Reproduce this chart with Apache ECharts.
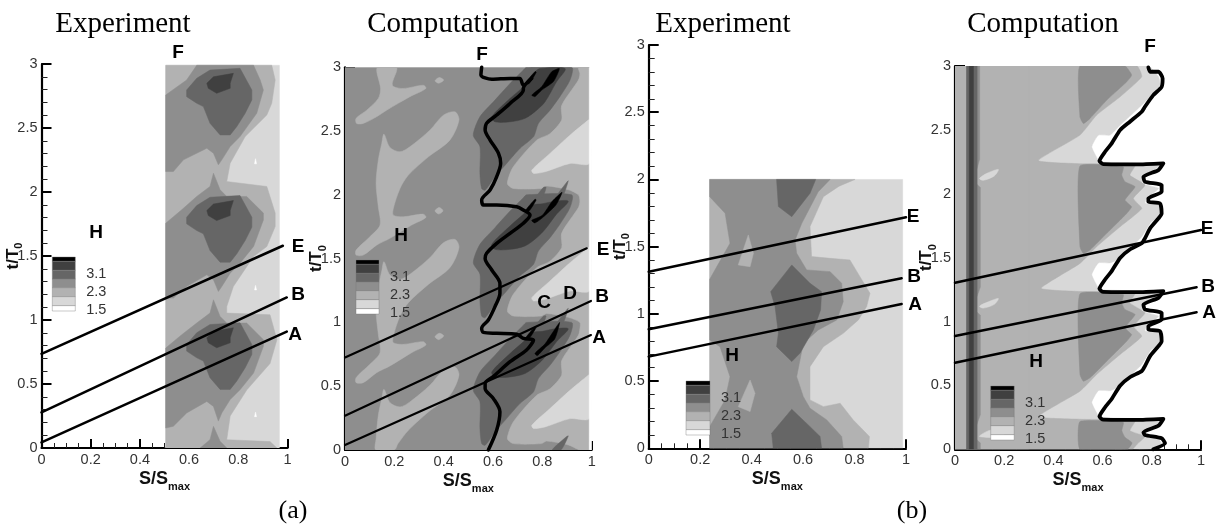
<!DOCTYPE html>
<html><head><meta charset="utf-8">
<style>html,body{margin:0;padding:0;background:#fff}#c{width:1219px;height:529px;filter:blur(.45px)}</style>
<script src="https://cdn.jsdelivr.net/npm/echarts@6/dist/echarts.min.js"></script>
</head><body><div id="c"></div>
<script>
// contour levels, lightest to darkest
const L1='#d8d8d8',L2='#b2b2b2',L3='#8e8e8e',L4='#666666',L5='#404040',L6='#000000';
const legendColors=[L6,L5,L4,L3,L2,L1,'#ffffff'];
const legendRows=[13,27,26,26,27,27,16];
const legendLabels=['3.1','2.3','1.5'];
const xTicks=[0,0.2,0.4,0.6,0.8,1];
const yTicks=[0,0.5,1,1.5,2,2.5,3];

// ---------- panel 1: Experiment (a)
const a1=[[[.505,2.99],[.967,2.99],[.967,0],[.505,0]]];
const a2=[[[.505,2.99],[.936,2.99],[.95,2.875],[.936,2.693],[.916,2.602],[.828,2.433],[.767,2.225],[.753,2.082],[.916,2.043],[.95,1.835],[.95,1.73],[.916,1.574],[.862,1.496],[.78,1.262],[.753,1.106],[.753,1.054],[.929,1.041],[.957,.846],[.929,.66],[.835,.455],[.767,.25],[.753,.065],[.929,.05],[.957,0],[.505,0]]];
const a3=[
[[.505,2.758],[.59,2.875],[.631,2.99],[.862,2.99],[.889,2.875],[.902,2.797],[.875,2.615],[.807,2.433],[.767,2.355],[.733,2.251],[.719,2.212],[.699,2.303],[.672,2.342],[.577,2.251],[.536,2.16],[.505,2.16]],
[[.505,1.756],[.57,1.861],[.631,1.965],[.685,2.043],[.699,2.147],[.726,2.017],[.753,1.965],[.834,1.965],[.902,1.835],[.902,1.782],[.862,1.574],[.807,1.444],[.767,1.366],[.733,1.262],[.719,1.223],[.699,1.314],[.672,1.353],[.59,1.262],[.536,1.171],[.505,1.171]],
[[.505,.781],[.57,.885],[.631,.976],[.685,1.054],[.699,1.158],[.726,1.028],[.753,.976],[.834,.976],[.902,.846],[.902,.794],[.862,.585],[.807,.455],[.767,.378],[.733,.274],[.719,.21],[.699,.325],[.672,.364],[.59,.273],[.536,.17],[.505,.156]],
[[.645,0],[.685,.065],[.699,.169],[.726,.052],[.753,0]]];
const a4=[
[[.59,2.745],[.59,2.797],[.631,2.888],[.685,2.953],[.807,2.966],[.855,2.797],[.855,2.719],[.828,2.615],[.794,2.511],[.767,2.446],[.726,2.446],[.685,2.537],[.658,2.667],[.631,2.693]],
[[.59,1.751],[.59,1.803],[.631,1.894],[.685,1.959],[.807,1.972],[.855,1.803],[.855,1.725],[.828,1.621],[.794,1.517],[.767,1.452],[.726,1.452],[.685,1.543],[.658,1.673],[.631,1.699]],
[[.59,.757],[.59,.809],[.631,.9],[.685,.965],[.807,.978],[.855,.809],[.855,.731],[.828,.627],[.794,.523],[.767,.458],[.726,.458],[.685,.549],[.658,.679],[.631,.705]]];
const a5=[
[[.672,2.849],[.699,2.9],[.78,2.927],[.767,2.849],[.767,2.81],[.712,2.771],[.678,2.81]],
[[.672,1.855],[.699,1.906],[.78,1.933],[.767,1.855],[.767,1.816],[.712,1.777],[.678,1.816]],
[[.672,.861],[.699,.912],[.78,.939],[.767,.861],[.767,.822],[.712,.783],[.678,.822]]];
const aSpecks=[[[.866,2.22],[.87,2.26],[.874,2.22]],[[.866,1.235],[.87,1.27],[.874,1.235]],[[.866,.245],[.87,.28],[.874,.245]]];
const aLineE=[[0,.736],[.981,1.58]], aLineB=[[0,.278],[.997,1.176]], aLineA=[[0,.044],[.997,.91]];

// ---------- panel 2: Computation (a)
const b0=[[[0,3],[.99,3],[.99,0],[0,0]]];
const bLeft=[
[[.131,3],[.209,3],[.192,2.86],[.236,2.834],[.317,2.86],[.328,2.834],[.263,2.769],[.169,2.664],[.128,2.612],[.074,2.56],[.047,2.56],[.045,2.6],[.088,2.664],[.135,2.756],[.144,2.834]],
[[.158,2.476],[.182,2.372],[.223,2.338],[.263,2.377],[.344,2.507],[.399,2.625],[.446,2.651],[.462,2.586],[.425,2.429],[.338,2.298],[.257,2.155],[.223,2.05],[.196,1.894],[.196,1.841],[.236,1.828],[.317,1.849],[.328,1.823],[.27,1.763],[.182,1.659],[.128,1.606],[.074,1.528],[.045,1.528],[.045,1.567],[.101,1.672],[.142,1.763],[.135,1.907],[.126,2.09],[.135,2.272],[.149,2.403]],
[[.158,1.476],[.182,1.372],[.223,1.338],[.263,1.377],[.344,1.507],[.399,1.625],[.446,1.651],[.462,1.586],[.425,1.429],[.338,1.298],[.257,1.155],[.223,1.05],[.196,.894],[.196,.841],[.236,.828],[.317,.849],[.328,.823],[.27,.763],[.182,.659],[.128,.606],[.074,.528],[.045,.528],[.045,.567],[.101,.672],[.142,.763],[.135,.907],[.126,1.09],[.135,1.272],[.149,1.403]],
[[.158,.476],[.182,.372],[.223,.338],[.263,.377],[.344,.507],[.399,.625],[.446,.651],[.462,.586],[.425,.429],[.338,.298],[.257,.155],[.215,.05],[.2,0],[.125,0],[.126,.09],[.135,.272],[.149,.403]],
[[.365,2.894],[.382,2.92],[.4,2.9],[.38,2.875]],
[[.365,1.875],[.382,1.9],[.397,1.875],[.38,1.85]],
[[.365,.888],[.382,.915],[.4,.895],[.38,.865]]];
const bRight=[[[.946,3],[.952,2.95],[.946,2.9],[.878,2.7],[.878,2.586],[.831,2.48],[.777,2.429],[.682,2.22],[.658,2.09],[.682,2.05],[.797,2.05],[.817,2.07],[.905,2.04],[.946,2],[.952,1.95],[.946,1.9],[.878,1.7],[.878,1.586],[.831,1.48],[.777,1.429],[.682,1.22],[.658,1.09],[.682,1.05],[.797,1.05],[.817,1.07],[.905,1.04],[.952,1],[.952,.95],[.946,.9],[.878,.7],[.878,.586],[.831,.48],[.777,.429],[.682,.22],[.658,.09],[.682,.05],[.797,.05],[.817,.07],[.905,.04],[.952,0],[.99,0],[.99,3]]];
const bIsland=[
[[.757,2.194],[.831,2.325],[.912,2.468],[.986,2.586],[.99,2.59],[.99,2.246],[.912,2.246],[.811,2.181],[.764,2.168]],
[[.757,1.194],[.831,1.325],[.912,1.468],[.986,1.586],[.99,1.59],[.99,1.246],[.912,1.246],[.811,1.181],[.764,1.168]],
[[.757,.194],[.831,.325],[.912,.468],[.986,.586],[.99,.59],[.99,.246],[.912,.246],[.811,.181],[.764,.168]]];
const bDark=[
[[.52,2.468],[.547,2.612],[.608,2.743],[.669,2.873],[.723,2.978],[.736,3],[.919,3],[.912,2.9],[.871,2.77],[.831,2.664],[.784,2.56],[.764,2.455],[.709,2.364],[.655,2.246],[.608,2.142],[.568,2.037],[.554,2.05],[.547,2.168],[.547,2.378]],
[[.52,1.468],[.547,1.612],[.608,1.743],[.669,1.873],[.723,1.978],[.736,2],[.919,2],[.912,1.9],[.871,1.77],[.831,1.664],[.784,1.56],[.764,1.455],[.709,1.364],[.655,1.246],[.608,1.142],[.568,1.037],[.554,1.05],[.547,1.168],[.547,1.378]],
[[.52,.468],[.547,.612],[.608,.743],[.669,.873],[.723,.978],[.736,1],[.919,1],[.912,.9],[.871,.77],[.831,.664],[.784,.56],[.764,.455],[.709,.364],[.655,.246],[.608,.142],[.568,.037],[.554,.05],[.547,.168],[.547,.378]],
[[.775,1.98],[.805,2.06],[.815,2.06],[.80,1.98]],[[.855,1.98],[.895,2.09],[.905,2.11],[.88,1.98]],
[[.775,.98],[.805,1.05],[.815,1.05],[.80,.98]],[[.855,.98],[.895,1.09],[.905,1.11],[.88,.98]],
[[.84,0],[.895,.1],[.905,.11],[.875,0]]];
const bDarker=[
[[.608,2.573],[.595,2.612],[.669,2.756],[.723,2.848],[.763,2.95],[.79,2.99],[.892,2.99],[.858,2.888],[.811,2.73],[.777,2.664],[.73,2.6],[.669,2.573]],
[[.608,1.573],[.595,1.612],[.669,1.756],[.723,1.848],[.763,1.92],[.80,1.93],[.85,1.95],[.905,1.95],[.858,1.85],[.811,1.73],[.777,1.664],[.73,1.6],[.669,1.573]],
[[.608,.573],[.595,.612],[.669,.756],[.723,.848],[.763,.92],[.80,.93],[.85,.95],[.905,.95],[.858,.85],[.811,.73],[.777,.664],[.73,.6],[.669,.573]]];
const bBlack=[
[[.757,2.782],[.797,2.848],[.838,2.966],[.869,2.99],[.845,2.888],[.797,2.82],[.77,2.77]],
[[.73,2.873],[.77,2.966],[.775,2.96],[.745,2.87]],
[[.757,1.80],[.80,1.84],[.84,1.95],[.88,2.02],[.855,1.92],[.80,1.82],[.77,1.78]],
[[.73,1.873],[.77,1.966],[.775,1.96],[.745,1.87]],
[[.77,.757],[.81,.83],[.845,.93],[.87,1.0],[.85,.87],[.81,.8],[.78,.74]],
[[.73,.873],[.77,.966],[.775,.96],[.745,.87]]];
const bMask=[[[.99,3],[1,3],[1,0],[.99,0]]];
const bCurveF=[[.554,3],[.551,2.94],[.595,2.906],[.669,2.913],[.709,2.913],[.723,2.861],[.757,2.913],[.723,2.835],[.723,2.822],[.669,2.717],[.615,2.626],[.574,2.561],[.568,2.508],[.588,2.43],[.622,2.326],[.631,2.247],[.615,2.143],[.588,2.038],[.554,1.96],[.561,1.92],[.615,1.92],[.696,1.907],[.723,1.881],[.75,1.842],[.723,1.777],[.669,1.698],[.615,1.62],[.574,1.542],[.568,1.502],[.595,1.411],[.628,1.306],[.628,1.228],[.608,1.124],[.581,1.019],[.554,.954],[.561,.922],[.615,.915],[.696,.907],[.723,.875],[.764,.862],[.736,.784],[.669,.692],[.601,.575],[.568,.523],[.568,.483],[.601,.405],[.628,.3],[.615,.157],[.581,0]];
const bLineE=[[0,.726],[.98,1.581]], bLineB=[[0,.269],[.997,1.168]], bLineA=[[0,.039],[.997,.901]];

// ---------- panel 3: Experiment (b)
const c1=[[[.237,2],[.987,2],[.987,0],[.237,0]]];
const c2=[[[.237,2],[.802,2],[.74,1.95],[.679,1.872],[.627,1.649],[.633,1.426],[.705,1.413],[.782,1.401],[.821,1.277],[.86,1.153],[.847,1.054],[.815,.955],[.756,.855],[.679,.756],[.627,.607],[.627,.36],[.679,.31],[.744,.335],[.795,.211],[.858,.087],[.854,0],[.237,0]]];
const c3=[[[.237,2],[.705,2],[.659,1.909],[.595,1.674],[.569,1.55],[.575,1.451],[.614,1.327],[.705,1.314],[.75,1.227],[.756,1.091],[.731,.955],[.659,.88],[.601,.781],[.575,.533],[.601,.384],[.627,.298],[.692,.211],[.75,.087],[.756,0],[.237,0],[.237,.161],[.297,.36],[.316,.533],[.277,.756],[.237,.806],[.237,1.257],[.316,1.525],[.297,1.748],[.237,1.872]]];
const c3Islands=[[[.348,1.364],[.387,1.587],[.407,1.451],[.394,1.351]],[[.348,.31],[.394,.508],[.413,.409],[.394,.273]]];
const c4=[
[[.497,2],[.649,2],[.627,1.897],[.556,1.723],[.504,1.798]],
[[.474,1.165],[.556,1.364],[.627,1.227],[.672,1.165],[.668,1.029],[.64,.88],[.588,.707],[.556,.645],[.497,.756],[.504,.855],[.491,1.054]],
[[.478,.112],[.556,.29],[.627,.161],[.666,.087],[.672,0],[.484,0]]];
const cLineE=[[0,1.314],[1,1.718]], cLineB=[[0,.885],[.983,1.265]], cLineA=[[0,.682],[.983,1.074]];

// ---------- panel 4: Computation (b)
const d1=[[[.786,3],[.827,2.916],[.833,2.85],[.766,2.707],[.671,2.537],[.63,2.459],[.583,2.459],[.556,2.368],[.578,2.277],[.587,2.25],[.72,2.24],[.833,2.217],[.772,2.146],[.759,2.081],[.827,2.042],[.779,1.964],[.772,1.925],[.831,1.911],[.831,1.833],[.793,1.768],[.759,1.664],[.711,1.573],[.671,1.494],[.63,1.459],[.583,1.459],[.556,1.368],[.578,1.277],[.587,1.25],[.72,1.24],[.833,1.217],[.772,1.146],[.759,1.081],[.827,1.042],[.779,.964],[.772,.925],[.831,.911],[.831,.833],[.793,.768],[.759,.664],[.711,.573],[.671,.494],[.63,.459],[.583,.459],[.556,.368],[.578,.277],[.587,.25],[.72,.24],[.833,.217],[.772,.146],[.759,.12],[.827,.08],[.84,.04],[.80,0],[0,0],[0,3]]];
const d2=[[[.739,3],[.759,2.916],[.671,2.759],[.576,2.616],[.508,2.459],[.339,2.26],[.51,2.235],[.732,2.225],[.711,2.146],[.772,2.068],[.725,1.964],[.759,1.885],[.671,1.742],[.576,1.586],[.508,1.455],[.35,1.26],[.51,1.235],[.732,1.225],[.711,1.146],[.772,1.068],[.725,.964],[.759,.885],[.671,.742],[.576,.586],[.508,.455],[.339,.256],[.51,.235],[.732,.225],[.711,.146],[.772,.1],[.74,.04],[.72,0],[0,0],[0,3]]];
const d2Base=[[[0,3],[.3,3],[.3,0],[0,0]]];
const d2Blobs=[[[.10,2.12],[.13,2.16],[.176,2.19],[.16,2.14],[.115,2.105]],[[.10,1.12],[.13,1.15],[.176,1.18],[.16,1.135],[.115,1.105]],[[.10,.1],[.13,.14],[.18,.16],[.2,.1]]];
const d3=[
[[.508,3],[.691,3],[.718,2.929],[.698,2.876],[.617,2.733],[.549,2.59],[.522,2.55],[.508,2.603]],
[[.508,2.217],[.684,2.211],[.678,2.146],[.691,2.094],[.732,2.055],[.691,1.951],[.718,1.898],[.698,1.846],[.617,1.69],[.549,1.56],[.522,1.533],[.508,1.586]],
[[.508,1.217],[.684,1.211],[.678,1.146],[.691,1.094],[.732,1.055],[.691,.951],[.718,.898],[.698,.846],[.617,.69],[.549,.56],[.522,.533],[.508,.586]],
[[.508,.217],[.684,.211],[.678,.146],[.691,.094],[.72,.05],[.70,0],[.508,0]]];
const d3Strip=[[[.047,3],[.10,3],[.10,2.27],[.09,2.2],[.075,2.14],[.08,2.09],[.103,2.05],[.103,1.27],[.09,1.2],[.075,1.14],[.08,1.09],[.103,1.05],[.103,.27],[.09,.2],[.075,.14],[.08,.09],[.103,.05],[.103,0],[.047,0]]];
const d4=[[[.047,3],[.09,3],[.09,0],[.047,0]]];
const d5=[[[.058,3],[.075,3],[.075,0],[.058,0]]];
const dCurveF=[[.786,2.989],[.793,2.955],[.827,2.955],[.844,2.903],[.84,2.837],[.806,2.772],[.772,2.681],[.759,2.642],[.711,2.564],[.671,2.498],[.637,2.394],[.61,2.329],[.587,2.256],[.603,2.232],[.739,2.23],[.847,2.238],[.827,2.185],[.766,2.133],[.772,2.094],[.84,2.068],[.84,2.016],[.786,1.964],[.786,1.938],[.833,1.925],[.84,1.846],[.827,1.807],[.793,1.729],[.772,1.651],[.759,1.612],[.711,1.564],[.671,1.498],[.637,1.394],[.61,1.329],[.587,1.256],[.603,1.232],[.739,1.23],[.847,1.238],[.827,1.185],[.766,1.133],[.772,1.094],[.84,1.068],[.84,1.016],[.786,.964],[.786,.938],[.833,.925],[.84,.846],[.827,.807],[.793,.729],[.772,.651],[.759,.612],[.711,.564],[.671,.498],[.637,.394],[.61,.329],[.587,.256],[.603,.232],[.739,.23],[.847,.238],[.827,.185],[.766,.133],[.772,.112],[.84,.086],[.854,.047],[.806,0]];
const dLineE=[[0,1.304],[1,1.717]], dLineB=[[0,.887],[.982,1.268]], dLineA=[[0,.678],[.982,1.072]];

// ---------- layout
const grids=[
 {left:41.5,top:64,width:246,height:384,outerBoundsMode:'none'},
 {left:345,top:67.3,width:246.7,height:382.7,outerBoundsMode:'none'},
 {left:648.7,top:45,width:257.3,height:403.3,outerBoundsMode:'none'},
 {left:955,top:66,width:246,height:383.3,outerBoundsMode:'none'}];
const SERIF='"Liberation Serif","Times New Roman",serif', SANS='"Liberation Sans",Arial,sans-serif';

function polySeries(g,polys,color,z,smooth){
  return {type:'custom',coordinateSystem:'cartesian2d',xAxisIndex:g,yAxisIndex:g,z:z,clip:true,silent:true,
    encode:{x:0,y:1},
    data:polys.map(p=>p[0]),
    renderItem:(params,api)=>({type:'polygon',
      shape:{points:polys[params.dataIndex].map(p=>api.coord(p)),smooth:smooth||0},
      style:{fill:color,stroke:color,lineWidth:.5}})};
}
function lineSeries(g,pts,w,z,smooth){
  return {type:'line',xAxisIndex:g,yAxisIndex:g,data:pts,symbol:'none',z:z,clip:false,smooth:smooth||false,silent:true,
    lineStyle:{color:'#000',width:w,cap:'round',join:'round'}};
}
const series=[
 polySeries(0,a1,L1,2),polySeries(0,a2,L2,3),polySeries(0,a3,L3,4),polySeries(0,a4,L4,5),polySeries(0,a5,L5,6),polySeries(0,aSpecks,'#ffffff',7),
 lineSeries(0,aLineE,2.5,20),lineSeries(0,aLineB,2.5,20),lineSeries(0,aLineA,2.5,20),

 polySeries(1,b0,L3,2),polySeries(1,bLeft,L2,3,.3),polySeries(1,bRight,L2,3,.25),polySeries(1,bIsland,L1,4,.25),
 polySeries(1,bDark,L4,5,.25),polySeries(1,bDarker,L5,6,.3),polySeries(1,bBlack,L6,7,.2),polySeries(1,bMask,'#ffffff',8),
 lineSeries(1,bCurveF,3.5,19,.3),
 lineSeries(1,bLineE,2.2,20),lineSeries(1,bLineB,2.2,20),lineSeries(1,bLineA,2.2,20),

 polySeries(2,c1,L1,2),polySeries(2,c2,L2,3),polySeries(2,c3,L3,4),polySeries(2,c3Islands,L2,5),polySeries(2,c4,L4,6),
 lineSeries(2,cLineE,2.5,20),lineSeries(2,cLineB,2.5,20),lineSeries(2,cLineA,2.5,20),

 polySeries(3,d1,L1,2,.15),polySeries(3,d2,L2,3,.15),polySeries(3,d2Base,L2,3.5),polySeries(3,d2Blobs,L1,4,.3),polySeries(3,d3,L3,5,.15),polySeries(3,d3Strip,L3,5),polySeries(3,d4,L4,6),polySeries(3,d5,L5,7),
 lineSeries(3,dCurveF,3.8,19,.2),
 lineSeries(3,dLineE,2.5,20),lineSeries(3,dLineB,2.5,20),lineSeries(3,dLineA,2.5,20)
];

const xAxis=grids.map((_,i)=>({type:'value',gridIndex:i,min:0,max:1,interval:.2,
  name:'{a|S/S}{b|max}',nameLocation:'middle',nameGap:18,nameMoveOverlap:false,
  nameTextStyle:{rich:{a:{fontFamily:SANS,fontWeight:'bold',fontSize:18,color:'#111',lineHeight:22,verticalAlign:'bottom'},
                       b:{fontFamily:SANS,fontWeight:'bold',fontSize:11,color:'#111',lineHeight:22,verticalAlign:'bottom',padding:[0,0,-4,0]}}},
  axisLine:{onZero:false,lineStyle:{color:'#000',width:2.2}},
  axisTick:{inside:true,length:9,lineStyle:{color:'#000',width:2}},
  minorTick:{show:true,splitNumber:4,length:5,lineStyle:{color:'#222',width:1}},
  splitLine:{show:false},
  axisLabel:{margin:4,color:'#333',fontFamily:SANS,fontSize:14.5,formatter:v=>String(xTicks.find(t=>Math.abs(t-v)<1e-6))}
}));
const yAxis=grids.map((_,i)=>({type:'value',gridIndex:i,min:0,max:3,interval:.5,
  name:'{a|t/T}{b|0}',nameLocation:'middle',nameGap:20,nameRotate:90,nameMoveOverlap:false,
  nameTextStyle:{rich:{a:{fontFamily:SANS,fontWeight:'bold',fontSize:17,color:'#111',lineHeight:20,verticalAlign:'bottom'},
                       b:{fontFamily:SANS,fontWeight:'bold',fontSize:11,color:'#111',lineHeight:20,verticalAlign:'bottom',padding:[0,0,-3,0]}}},
  axisLine:{onZero:false,lineStyle:{color:'#000',width:2.2}},
  axisTick:{inside:true,length:10,lineStyle:{color:'#000',width:2}},
  minorTick:{show:true,splitNumber:5,length:6,lineStyle:{color:'#222',width:1}},
  splitLine:{show:false},
  axisLabel:{margin:4,color:'#333',fontFamily:SANS,fontSize:14.5,formatter:v=>String(yTicks.find(t=>Math.abs(t-v)<1e-6))}
}));

// ---------- text and colour-key furniture
const titles=[['Experiment',123,24],['Computation',443,24],['Experiment',723,24],['Computation',1043,24]];
const captions=[['(a)',293,511],['(b)',912,511]];
const letters=[
 ['F',178,53],['H',96,233],['E',298,247],['B',298,295],['A',295,335],
 ['F',482,55],['H',401,236],['E',603,250],['B',602,297],['A',599,338],['C',544,303],['D',570,294],
 ['E',913,217],['B',914,277],['A',915,305],['H',732,356],
 ['F',1150,47],['E',1207,229],['B',1208,287],['A',1209,313],['H',1036,362]];
const keys=[[52.3,257,23],[356,260,23],[686,381,24],[990.7,386,23.5]];
const graphic=[];
titles.forEach(t=>graphic.push({type:'text',x:t[1],y:t[2],z:50,silent:true,
  style:{text:t[0],fill:'#000',font:'29px '+SERIF,align:'center',verticalAlign:'middle'}}));
captions.forEach(t=>graphic.push({type:'text',x:t[1],y:t[2],z:50,silent:true,
  style:{text:t[0],fill:'#000',font:'26px '+SERIF,align:'center',verticalAlign:'middle'}}));
letters.forEach(t=>graphic.push({type:'text',x:t[1],y:t[2],z:50,silent:true,
  style:{text:t[0],fill:'#000',font:'bold 19px '+SANS,align:'center',verticalAlign:'middle'}}));
keys.forEach(k=>{
  let y=k[1];
  legendRows.forEach((h,i)=>{
    h=h/3;
    graphic.push({type:'rect',z:40,silent:true,shape:{x:k[0],y:y,width:k[2],height:h},
      style:{fill:legendColors[i],stroke:'#777',lineWidth:.4}});
    y+=h;
  });
  legendLabels.forEach((s,i)=>graphic.push({type:'text',x:k[0]+k[2]+21,y:k[1]+16.5+i*18.3,z:41,silent:true,
    style:{text:s,fill:'#333',font:'14.5px '+SANS,align:'center',verticalAlign:'middle'}}));
});

const chart=echarts.init(document.getElementById('c'),null,{renderer:'canvas'});
chart.setOption({animation:false,backgroundColor:'#fff',grid:grids,xAxis,yAxis,series,graphic});
</script></body></html>
